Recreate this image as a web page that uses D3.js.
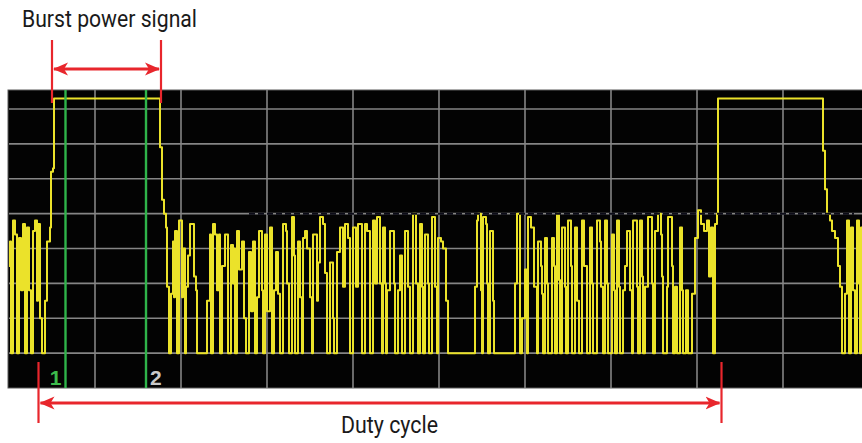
<!DOCTYPE html>
<html>
<head>
<meta charset="utf-8">
<script src="https://cdn.jsdelivr.net/npm/d3@7"></script>
<style>
  body { margin: 0; background: #fff; }
  svg { display: block; }
</style>
</head>
<body>
<svg id="burst-svg"></svg>
<script>
const width = 862, height = 443;

// sweep points (1 per pixel column) and level in dBm, step trace
const trace = [
  [0,-55],[1,-48],[2,-80],[4,-42],[6,-46],[8,-80],[10,-47],[12,-62],[14,-43],[16,-80],
  [18,-44],[20,-62],[22,-80],[24,-45],[26,-42],[28,-65],[29,-43],[31,-70],[33,-80],[36,-65],
  [38,-48],[41,-44],[42,-28],[44,-27],[45,-7],
  [151,-21],[153,-36],[155,-40],[157,-44],
  [158,-61],[160,-80],[162,-63],[164,-48],[165,-64],[166,-45],[168,-80],[170,-42],[173,-64],[174,-50],
  [176,-80],[177,-61],[179,-52],[181,-43],[185,-58],[187,-62],[188,-80],[198,-65],[201,-46],[202,-80],
  [204,-43],[206,-46],[208,-62],[210,-46],[211,-80],[213,-55],[216,-46],[219,-80],[222,-49],[224,-60],
  [225,-50],[226,-80],[228,-45],[230,-56],[233,-48],[235,-70],[237,-80],[240,-51],[242,-68],[244,-48],
  [246,-80],[248,-64],[250,-45],[253,-62],[254,-80],[256,-46],[258,-68],[261,-44],[263,-80],
  [265,-62],[267,-51],[269,-63],[271,-80],[274,-43],[277,-45],[278,-60],[280,-80],[283,-41],[285,-52],
  [286,-80],[289,-48],[291,-64],[293,-80],[294,-47],[296,-45],[298,-50],[301,-64],[303,-80],[304,-46],
  [308,-65],[309,-54],[311,-41],[314,-43],[316,-57],[318,-80],[321,-54],[324,-70],[325,-80],[328,-51],
  [331,-44],[334,-61],[336,-43],[339,-47],[341,-80],[344,-44],[347,-61],[349,-43],[353,-80],[356,-43],
  [358,-45],[361,-80],[364,-42],[366,-60],[368,-41],[371,-60],[373,-80],
  [374,-44],[376,-60],[377,-80],[378,-62],[381,-45],[385,-60],[386,-80],[389,-62],[391,-52],[393,-80],
  [396,-45],[399,-61],[401,-80],[404,-40],[407,-60],[409,-80],[411,-43],[413,-61],[414,-80],[416,-46],
  [419,-60],[420,-80],[423,-41],[426,-61],[428,-80],[429,-47],[432,-48],[434,-50],[437,-65],[439,-80],
  [466,-61],[468,-42],[469,-40],[472,-62],[473,-80],[474,-41],[477,-43],[478,-60],[479,-80],[481,-45],
  [484,-65],[485,-80],
  [506,-60],[508,-40],[511,-80],[513,-70],[516,-56],[518,-80],[519,-41],[522,-44],[525,-61],[528,-80],
  [529,-48],[532,-55],[533,-63],[534,-80],[536,-47],[538,-60],[539,-80],[543,-47],[545,-55],[546,-80],
  [548,-40],[550,-59],[551,-80],[553,-44],[556,-61],[557,-80],[559,-42],[562,-55],[563,-80],[566,-44],
  [568,-65],[570,-80],[573,-42],[575,-55],[578,-80],[581,-44],[583,-60],[584,-80],[588,-42],[591,-48],
  [592,-61],[594,-80],
  [596,-42],[598,-60],[599,-80],[603,-46],[605,-62],[606,-80],[608,-42],[610,-61],[611,-80],[614,-62],
  [616,-55],[618,-45],[621,-62],[623,-80],[624,-42],[628,-61],[629,-80],[631,-42],[633,-58],[634,-80],
  [636,-61],[639,-41],[643,-60],[644,-80],[646,-45],[649,-40],[652,-46],[653,-58],[654,-80],[658,-61],
  [659,-41],[663,-55],[664,-80],[666,-61],[668,-80],[671,-44],[673,-62],[674,-80],[677,-62],[679,-80],
  [683,-63],[686,-47],[689,-39],[692,-43],[695,-45],[698,-42],[700,-58],[702,-44],[704,-80],[706,-43],
  [708,-40],[709,-7],
  [813,-7],[814,-22],[816,-33],[818,-40],[821,-42],[823,-45],[826,-47],[829,-55],[831,-61],[833,-80],
  [836,-63],[838,-42],[840,-80],[842,-44],[844,-62],[846,-80],[848,-42],[850,-60],[851,-80],[852,-44],
  [860,-44]
];

// delta markers
const markers = [
  {label: "1", point: 56.5, color: "#2fb44a", text: "#3cbb4c"},
  {label: "2", point: 137, color: "#2fb44a", text: "#c9c9c9"}
];

// red callouts: [start, end] in sweep points
const burstSpan = [43, 152];
const dutySpan = [29.5, 712.5];
const burstLabel = "Burst power signal";
const dutyLabel = "Duty cycle";

const plot = {left: 9, right: 869, top: 90, bottom: 388};
const red = "#e8262c";

const svg = d3.select("#burst-svg")
  .attr("width", width)
  .attr("height", height)
  .attr("viewBox", [0, 0, width, height]);

const x = d3.scaleLinear().domain([0, 860]).range([plot.left, plot.right]);
const y = d3.scaleLinear().domain([-90, -10]).range([plot.bottom, 109]);

// SCREEN
svg.append("clipPath").attr("id", "scr")
  .append("rect")
    .attr("x", plot.left - 1).attr("y", plot.top)
    .attr("width", plot.right - plot.left + 1).attr("height", plot.bottom - plot.top);

svg.append("rect")
    .attr("x", plot.left - 1).attr("y", plot.top)
    .attr("width", plot.right - plot.left + 1).attr("height", plot.bottom - plot.top)
    .attr("fill", "#030303")
    .attr("stroke", "#5a5a5a")
    .attr("stroke-width", 1);

// GRID
const grid = svg.append("g")
    .attr("stroke", "#858585")
    .attr("stroke-width", 1.6)
    .attr("clip-path", "url(#scr)");

grid.selectAll("line.v")
  .data(d3.range(1, 10))
  .join("line")
    .attr("class", "v")
    .attr("x1", d => x(d * 86)).attr("x2", d => x(d * 86))
    .attr("y1", plot.top).attr("y2", plot.bottom);

grid.selectAll("line.h")
  .data(d3.range(-80, -9, 10))
  .join("line")
    .attr("class", "h")
    .attr("x1", plot.left).attr("x2", plot.right)
    .attr("y1", d => y(d)).attr("y2", d => y(d));

// TRACE
const line = d3.line()
    .x(d => x(d[0]))
    .y(d => y(d[1]))
    .curve(d3.curveStepAfter);

svg.append("path")
    .datum(trace)
    .attr("clip-path", "url(#scr)")
    .attr("fill", "none")
    .attr("stroke", "#ebe22a")
    .attr("stroke-width", 2)
    .attr("stroke-linejoin", "round")
    .attr("d", line);

// dark display line laid over the trace
svg.append("line")
    .attr("x1", x(240)).attr("x2", x(845))
    .attr("y1", y(-40)).attr("y2", y(-40))
    .attr("stroke", "#0c0c18")
    .attr("stroke-width", 2)
    .attr("stroke-dasharray", "6,3");

// MARKERS
const mk = svg.append("g").selectAll("g")
  .data(markers)
  .join("g");

mk.append("line")
    .attr("x1", d => x(d.point)).attr("x2", d => x(d.point))
    .attr("y1", plot.top).attr("y2", plot.bottom)
    .attr("stroke", d => d.color)
    .attr("stroke-width", 2.4);

mk.append("text")
    .attr("x", d => x(d.point) + (d.label === "1" ? -4 : 4))
    .attr("y", 385)
    .attr("text-anchor", d => d.label === "1" ? "end" : "start")
    .attr("fill", d => d.text)
    .style("font", "bold 21px 'Liberation Sans', Arial, sans-serif")
    .text(d => d.label);

// CALLOUTS
const defs = svg.append("defs");
defs.append("marker")
    .attr("id", "head")
    .attr("viewBox", "0 -7 16 14")
    .attr("refX", 14).attr("refY", 0)
    .attr("markerUnits", "userSpaceOnUse")
    .attr("markerWidth", 16).attr("markerHeight", 14)
    .attr("orient", "auto-start-reverse")
  .append("path")
    .attr("d", "M15,0L0,-6.5L4,0L0,6.5Z")
    .attr("fill", red);

function callout(span, yTop, yBot, yArrow) {
  const g = svg.append("g").attr("stroke", red);
  g.selectAll("line.tick")
    .data(span)
    .join("line")
      .attr("class", "tick")
      .attr("x1", d => x(d)).attr("x2", d => x(d))
      .attr("y1", yTop).attr("y2", yBot)
      .attr("stroke-width", 2.2);
  g.append("line")
      .attr("x1", x(span[0]) + 2).attr("x2", x(span[1]) - 2)
      .attr("y1", yArrow).attr("y2", yArrow)
      .attr("stroke-width", 2.8)
      .attr("marker-start", "url(#head)")
      .attr("marker-end", "url(#head)");
}

callout(burstSpan, 40, 103, 69);
callout(dutySpan, 362, 423, 403);

// LABELS
svg.append("text")
    .attr("x", 22).attr("y", 27)
    .attr("textLength", 175)
    .attr("lengthAdjust", "spacingAndGlyphs")
    .attr("fill", "#1a1a1a")
    .style("font", "23px Roboto, sans-serif")
    .text(burstLabel);

svg.append("text")
    .attr("x", 341).attr("y", 433)
    .attr("textLength", 97)
    .attr("lengthAdjust", "spacingAndGlyphs")
    .attr("fill", "#1a1a1a")
    .style("font", "23px Roboto, sans-serif")
    .text(dutyLabel);
</script>
</body>
</html>
